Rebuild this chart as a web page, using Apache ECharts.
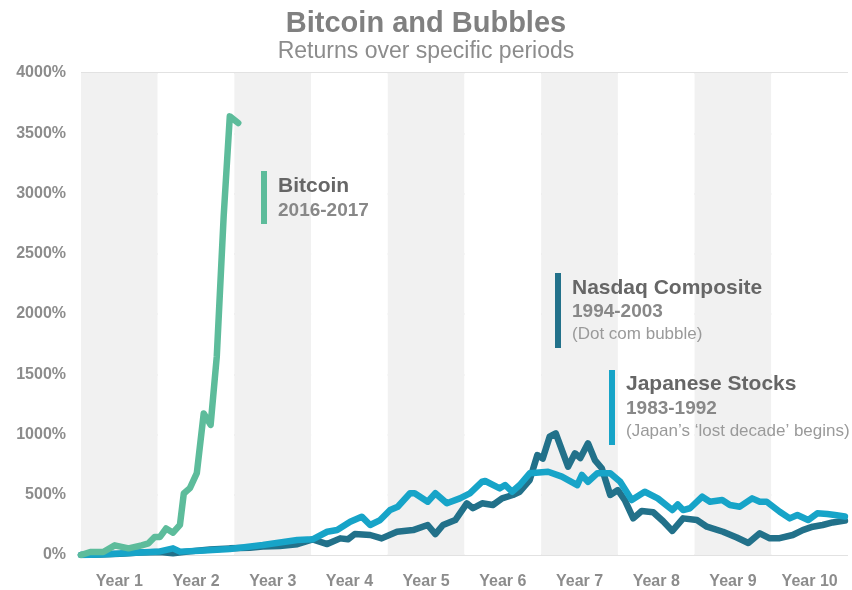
<!DOCTYPE html>
<html>
<head>
<meta charset="utf-8">
<script src="https://cdn.jsdelivr.net/npm/echarts@6/dist/echarts.min.js"></script>
<style>html,body{margin:0;padding:0;background:#fff;}#c{width:852px;height:590px;}</style>
</head>
<body>
<div id="c"></div>
<script>
// ---- data ----
const yearLabels = ['Year 1','Year 2','Year 3','Year 4','Year 5','Year 6','Year 7','Year 8','Year 9','Year 10'];

const bitcoinYears  = [0.00,0.12,0.29,0.44,0.62,0.79,0.88,0.96,1.03,1.11,1.20,1.29,1.34,1.42,1.51,1.60,1.69,1.77,1.86,1.94,2.05];
const bitcoinValues = [0,25,25,80,55,80,97,150,150,220,185,250,510,555,680,1175,1080,1645,2810,3640,3585];

const nasdaqYears  = [0.00,0.25,0.51,0.77,1.03,1.20,1.42,1.68,1.94,2.20,2.37,2.59,2.82,3.02,3.21,3.38,3.48,3.57,3.77,3.92,4.12,4.33,4.52,4.62,4.72,4.88,5.03,5.11,5.23,5.37,5.49,5.63,5.72,5.85,5.95,6.02,6.11,6.19,6.35,6.44,6.51,6.61,6.70,6.79,6.90,7.00,7.09,7.20,7.31,7.46,7.59,7.71,7.85,8.03,8.16,8.37,8.55,8.70,8.85,8.98,9.11,9.28,9.41,9.54,9.67,9.80,9.96];
const nasdaqValues = [0,5,10,20,25,15,30,45,55,60,70,75,90,130,91,138,130,174,166,138,193,207,249,174,249,290,429,388,429,415,470,498,525,622,830,800,982,1010,733,844,805,927,788,720,498,539,456,304,365,355,280,200,304,290,235,193,145,100,180,138,140,166,207,235,249,270,285];

const japanYears  = [0.00,0.25,0.51,0.77,1.03,1.20,1.29,1.55,1.94,2.37,2.82,3.02,3.21,3.34,3.51,3.66,3.77,3.90,4.03,4.13,4.29,4.35,4.52,4.62,4.77,4.94,5.07,5.23,5.27,5.46,5.53,5.62,5.72,5.85,6.09,6.27,6.47,6.53,6.61,6.73,6.90,7.03,7.18,7.35,7.52,7.71,7.78,7.85,7.94,8.10,8.20,8.36,8.46,8.59,8.75,8.85,8.94,9.11,9.24,9.34,9.48,9.60,9.73,9.83,9.96];
const japanValues = [0,5,12,20,30,55,28,35,50,83,125,130,193,207,276,318,249,290,373,400,512,512,442,512,429,470,512,608,614,553,581,525,581,678,691,650,580,664,608,678,678,608,456,525,470,373,420,373,388,484,442,456,415,401,470,442,442,359,304,332,290,346,340,332,320];

const yTicks = {min: 0, max: 4000, interval: 500};

const FONT = "'Liberation Sans', Arial, sans-serif";
const C_BTC = '#5dbc9b', C_NAS = '#22718a', C_JAP = '#17a4c8';

function zip(xs, ys){ return xs.map((x,i)=>[x, ys[i]]); }

const chart = echarts.init(document.getElementById('c'), null, {renderer:'canvas'});

function lineSeries(name, xs, ys, color, z){
  return {
    name, type:'line', xAxisIndex:1, yAxisIndex:0,
    data: zip(xs, ys), showSymbol:false, symbol:'none', smooth:false, z,
    lineStyle:{color, width:6.5, cap:'round', join:'round'},
    emphasis:{disabled:true}, animation:false
  };
}

function note(x, yTop, h, color, lines){
  const els = [{type:'rect', z:100, shape:{x:x, y:yTop, width:6, height:h}, style:{fill:color}}];
  lines.forEach(l=>{
    els.push({type:'text', z:100, style:{text:l.t, x:x+17, y:l.y, font:l.f, fill:l.c, verticalAlign:'middle', textVerticalAlign:'middle'}});
  });
  return els;
}

const option = {
  backgroundColor:'#ffffff',
  animation:false,
  title:{
    text:'Bitcoin and Bubbles', subtext:'Returns over specific periods',
    left:'center', top:4, itemGap:2,
    textStyle:{fontFamily:FONT, fontSize:29, fontWeight:'bold', color:'#808080'},
    subtextStyle:{fontFamily:FONT, fontSize:23, color:'#8c8c8c'}
  },
  grid:{left:81, right:4, top:73, bottom:35, containLabel:false, outerBoundsMode:'none'},
  xAxis:[
    {type:'category', data:yearLabels, boundaryGap:true,
     axisLine:{show:false}, axisTick:{show:false},
     axisLabel:{fontFamily:FONT, fontSize:16, fontWeight:'bold', color:'#8c8c8c', margin:19},
     splitLine:{show:false},
     splitArea:{show:true, areaStyle:{color:['#f1f1f1','#ffffff']}}},
    {type:'value', min:0, max:10, show:false, splitLine:{show:false}}
  ],
  yAxis:[{
    type:'value', min:yTicks.min, max:yTicks.max, interval:yTicks.interval,
    axisLine:{show:false}, axisTick:{show:false},
    axisLabel:{formatter:v=>String(v)+'%', fontFamily:FONT, fontSize:16, fontWeight:'bold', color:'#8c8c8c', margin:15},
    splitLine:{show:true, lineStyle:{color:'#d9d9d9', width:1.5}}
  }],
  series:[
    lineSeries('Nasdaq Composite', nasdaqYears, nasdaqValues, C_NAS, 2),
    lineSeries('Japanese Stocks', japanYears, japanValues, C_JAP, 3),
    lineSeries('Bitcoin', bitcoinYears, bitcoinValues, C_BTC, 4)
  ],
  graphic:[].concat(
    note(261, 171, 53, C_BTC, [
      {t:'Bitcoin', y:186, f:'bold 21px '+FONT, c:'#666666'},
      {t:'2016-2017', y:211, f:'bold 19px '+FONT, c:'#888888'}
    ]),
    note(555, 273, 75, C_NAS, [
      {t:'Nasdaq Composite', y:288, f:'bold 21px '+FONT, c:'#666666'},
      {t:'1994-2003', y:312, f:'bold 19px '+FONT, c:'#888888'},
      {t:'(Dot com bubble)', y:334, f:'17px '+FONT, c:'#9a9a9a'}
    ]),
    note(609, 370, 75, C_JAP, [
      {t:'Japanese Stocks', y:384, f:'bold 21px '+FONT, c:'#666666'},
      {t:'1983-1992', y:409, f:'bold 19px '+FONT, c:'#888888'},
      {t:'(Japan\u2019s \u2018lost decade\u2019 begins)', y:431, f:'17px '+FONT, c:'#9a9a9a'}
    ])
  )
};
chart.setOption(option);
</script>
</body>
</html>
